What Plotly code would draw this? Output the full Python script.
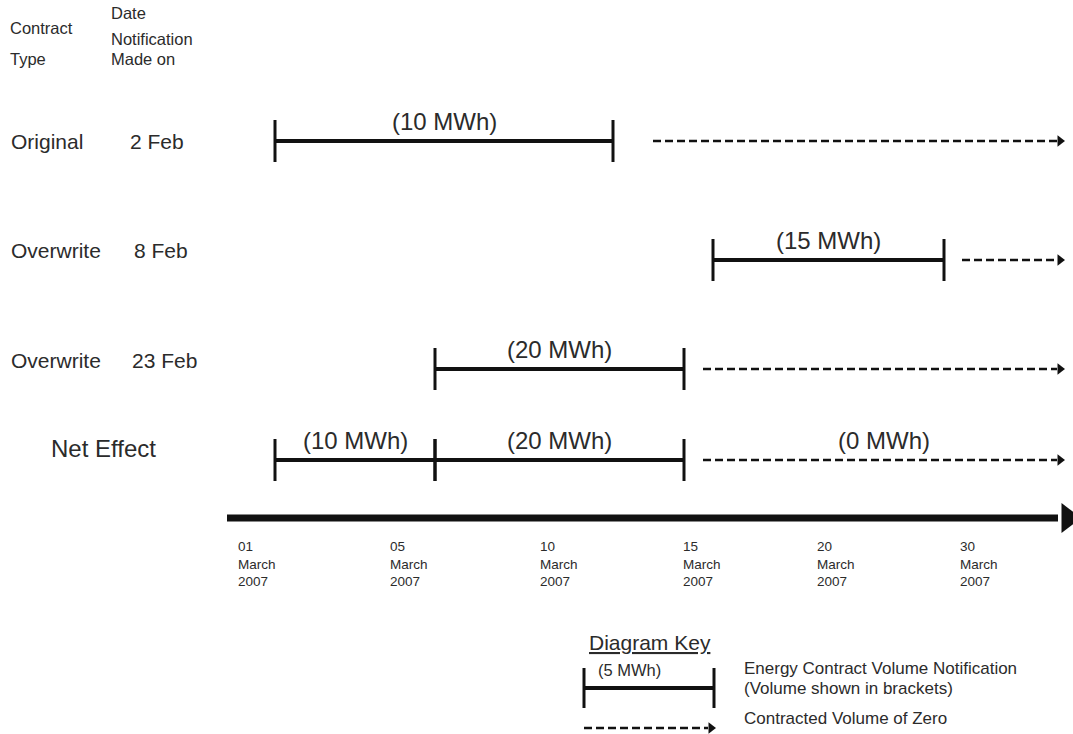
import plotly.graph_objects as go

# ---- data (axis units: x = timeline position, y = row position) ----
row_names = ["Original", "Overwrite", "Overwrite", "Net Effect"]
row_dates = ["2 Feb", "8 Feb", "23 Feb", ""]
row_y = [141, 260, 369, 460]

# solid volume segments: row index, start, end, label
seg_row = [0, 1, 2, 3, 3]
seg_start = [275, 713, 435, 275, 435]
seg_end = [613, 944, 684, 435, 684]
seg_label = ["(10 MWh)", "(15 MWh)", "(20 MWh)", "(10 MWh)", "(20 MWh)"]

# zero-volume dashed arrows: row index, start, end, label
zero_row = [0, 1, 2, 3]
zero_start = [653, 962, 703, 703]
zero_end = [1064, 1064, 1064, 1064]
zero_label = ["", "", "", "(0 MWh)"]

tick_pos = [238, 390, 540, 683, 817, 960]
tick_day = ["01", "05", "10", "15", "20", "30"]
tick_month = ["March"] * 6
tick_year = ["2007"] * 6

axis_y = 518
axis_start, axis_end = 227, 1058

key_y_solid = 688
key_y_dash = 728
key_start, key_end = 584, 714
key_dash_end = 715

FONT = "Liberation Sans, Arial, sans-serif"
INK = "#111111"
TXT = "#2b2b2b"
TICK_H = 21

fig = go.Figure()


def solid(x0, x1, y, h=TICK_H):
    fig.add_trace(go.Scatter(x=[x0, x1], y=[y, y], mode="lines",
                             line=dict(color=INK, width=4), hoverinfo="skip"))
    for xx in (x0, x1):
        fig.add_trace(go.Scatter(x=[xx, xx], y=[y - h, y + h], mode="lines",
                                 line=dict(color=INK, width=3), hoverinfo="skip"))


def dashed(x0, x1, y):
    fig.add_trace(go.Scatter(x=[x0, x1 - 7], y=[y, y], mode="lines",
                             line=dict(color=INK, width=2.5, dash="8px,4px"),
                             hoverinfo="skip"))
    fig.add_trace(go.Scatter(x=[x1 - 4], y=[y], mode="markers",
                             marker=dict(symbol="triangle-right", size=10, color=INK),
                             hoverinfo="skip", cliponaxis=False))


annotations = []


def text(x, y, s, size, anchor="left", color=TXT):
    annotations.append(dict(x=x, y=y, xref="x", yref="y", text=s, showarrow=False,
                            xanchor=anchor, yanchor="middle",
                            font=dict(family=FONT, size=size, color=color)))


for r, x0, x1, lab in zip(seg_row, seg_start, seg_end, seg_label):
    solid(x0, x1, row_y[r])
    text((x0 + x1) / 2, row_y[r] - 20, lab, 24, "center")

for r, x0, x1, lab in zip(zero_row, zero_start, zero_end, zero_label):
    dashed(x0, x1, row_y[r])
    if lab:
        text((x0 + x1) / 2, row_y[r] - 20, lab, 24, "center")

# row labels
label_off = [0, -10, -9]
date_x = [128, 132, 130]
for i, (nm, dt, y) in enumerate(zip(row_names, row_dates, row_y)):
    if nm == "Net Effect":
        text(49, y - 12, nm, 24)
    else:
        text(9, y + label_off[i], nm, 21)
        text(date_x[i], y + label_off[i], dt, 21)

# header
text(8, 28, "Contract", 16.5)
text(8, 59, "Type", 16.5)
text(109, 13, "Date", 16.5)
text(109, 39, "Notification", 16.5)
text(109, 59, "Made on", 16.5)

# main timeline axis
fig.add_trace(go.Scatter(x=[axis_start, axis_end], y=[axis_y, axis_y], mode="lines",
                         line=dict(color=INK, width=7), hoverinfo="skip"))
fig.add_trace(go.Scatter(x=[axis_end + 10], y=[axis_y], mode="markers",
                         marker=dict(symbol="triangle-right", size=26, color=INK),
                         hoverinfo="skip", cliponaxis=False))
for x, d, m, yv in zip(tick_pos, tick_day, tick_month, tick_year):
    text(x - 2, 546, d, 13.5)
    text(x - 2, 564, m, 13.5)
    text(x - 2, 581, yv, 13.5)

# key
text(587, 642, "<u>Diagram Key</u>", 21)
solid(key_start, key_end, key_y_solid, 20)
text(596, 670, "(5 MWh)", 16.5)
dashed(key_start, key_dash_end, key_y_dash)
text(742, 668, "Energy Contract Volume Notification", 17)
text(742, 688, "(Volume shown in brackets)", 17)
text(742, 718, "Contracted Volume of Zero", 17)

fig.update_layout(
    width=1073, height=734,
    margin=dict(l=0, r=0, t=0, b=0),
    paper_bgcolor="white", plot_bgcolor="white",
    showlegend=False,
    xaxis=dict(range=[0, 1073], visible=False, fixedrange=True),
    yaxis=dict(range=[734, 0], visible=False, fixedrange=True),
    annotations=annotations,
)

fig.write_html(
    "out.html",
    config={"displayModeBar": False, "responsive": False},
    post_script="document.body.style.margin='0';document.body.style.overflow='hidden';",
)
